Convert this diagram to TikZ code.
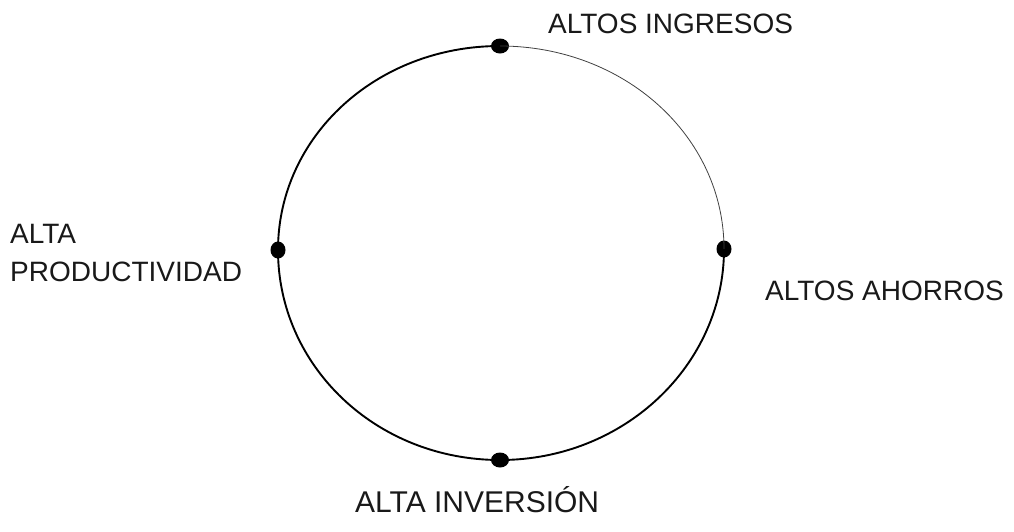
\documentclass[tikz,border=0pt]{standalone}
\usepackage{fontspec}
\setmainfont{Liberation Sans}
\usetikzlibrary{shapes.geometric}
\begin{document}
\begin{tikzpicture}[x=1pt,y=-1pt,
  hdot/.style={ellipse,fill=black,inner sep=0pt,minimum width=18pt,minimum height=15pt},
  vdot/.style={ellipse,fill=black,inner sep=0pt,minimum width=15pt,minimum height=17pt},
  thick arc/.style={line width=1.9pt,black},
  thin arc/.style={line width=0.8pt,black!75},
  lbl/.style={font=\fontsize{28}{38}\selectfont,inner sep=0pt,text=black!90}]
\useasboundingbox (0,0) rectangle (1014,531);
\node[hdot] (top) at (500,46) {};
\node[vdot] (right) at (724,249) {};
\node[hdot] (bottom) at (500,460) {};
\node[vdot] (left) at (278,250) {};
\draw[thin arc] (top.center) .. controls +(124,0) and +(0,-113) .. (right.center);
\draw[thick arc] (right.center) .. controls +(0,116) and +(124,0) .. (bottom.center);
\draw[thick arc] (bottom.center) .. controls +(-124,0) and +(0,116) .. (left.center);
\draw[thick arc] (left.center) .. controls +(0,-113) and +(-124,0) .. (top.center);
\node[lbl,anchor=base west] (ing) at (548,33) {ALTOS INGRESOS};
\node[lbl,anchor=north west,align=left] (prod) at (10,224) {ALTA\\PRODUCTIVIDAD};
\node[lbl,anchor=base west] (aho) at (765,300) {ALTOS AHORROS};
\node[lbl,anchor=base west,font=\fontsize{30}{38}\selectfont] (inv) at (355,512) {ALTA INVERSIÓN};
\end{tikzpicture}
\end{document}
